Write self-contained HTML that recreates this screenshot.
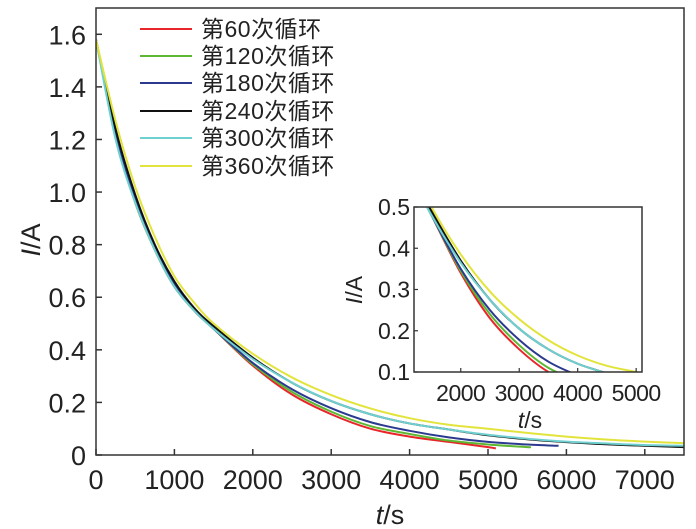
<!DOCTYPE html>
<html><head><meta charset="utf-8"><style>
body{margin:0;background:#fff}
svg{display:block;font-family:"Liberation Sans","Noto Sans CJK SC",sans-serif}
</style></head><body>
<svg id="chart" width="696" height="529" viewBox="0 0 696 529"></svg>
<script>
const times=[0,250,500,750,1000,1250,1500,2000,2500,3000,3500,4000,4500,5000,5500,6000,6500,7000,7500];
const seriesNames=["第60次循环","第120次循环","第180次循环","第240次循环","第300次循环","第360次循环"];
const seriesColors=["#e8262a","#5cb833","#2b3a8f","#111111","#6fd0d0","#e2e43c"];
const redVals=[1.58,1.22,0.96,0.78,0.64,0.55,0.48,0.34,0.23,0.155,0.10,0.07,0.05,0.03];
const redEnd=[5100,0.025];
const greenVals=[1.58,1.22,0.96,0.78,0.64,0.55,0.48,0.345,0.24,0.165,0.11,0.08,0.055,0.04,0.03];
const greenEnd=[5500,0.03];
const blueVals=[1.58,1.23,0.97,0.79,0.65,0.55,0.48,0.35,0.25,0.178,0.125,0.092,0.067,0.05,0.04];
const blueEnd=[5900,0.035];
const blackVals=[1.58,1.24,0.99,0.80,0.66,0.56,0.49,0.37,0.275,0.205,0.155,0.12,0.097,0.075,0.06,0.049,0.041,0.035,0.03];
const cyanVals=[1.58,1.20,0.96,0.78,0.64,0.55,0.48,0.365,0.275,0.205,0.155,0.12,0.097,0.077,0.062,0.051,0.044,0.038,0.035];
const yellowVals=[1.58,1.27,1.02,0.83,0.68,0.58,0.50,0.385,0.295,0.228,0.177,0.14,0.115,0.1,0.084,0.07,0.059,0.051,0.045];
const xTicks=[0,1000,2000,3000,4000,5000,6000,7000];
const yTicks=[0,0.2,0.4,0.6,0.8,1.0,1.2,1.4,1.6];
const yTickLabels=["0","0.2","0.4","0.6","0.8","1.0","1.2","1.4","1.6"];
const insetXTicks=[2000,3000,4000,5000];
const insetYTicks=[0.1,0.2,0.3,0.4,0.5];

const NS="http://www.w3.org/2000/svg";
const svg=document.getElementById('chart');
function mk(tag,attrs,parent){const e=document.createElementNS(NS,tag);for(const k in attrs)e.setAttribute(k,attrs[k]);(parent||svg).appendChild(e);return e;}
function pts(vals,end){const p=vals.map((v,i)=>[times[i],v]);if(end)p.push(end);return p;}
const allSeries=[pts(redVals,redEnd),pts(greenVals,greenEnd),pts(blueVals,blueEnd),pts(blackVals),pts(cyanVals),pts(yellowVals)];

const M={l:96,r:684,t:8,b:455,x0:0,x1:7500,y0:0,y1:1.7};
const mx=v=>M.l+(v-M.x0)/(M.x1-M.x0)*(M.r-M.l);
const my=v=>M.b-(v-M.y0)/(M.y1-M.y0)*(M.b-M.t);
const I={l:414,r:642,t:207,b:372,x0:1200,x1:5100,y0:0.1,y1:0.5};
const ix=v=>I.l+(v-I.x0)/(I.x1-I.x0)*(I.r-I.l);
const iy=v=>I.b-(v-I.y0)/(I.y1-I.y0)*(I.b-I.t);

function spline(p,fx,fy){
  const q=p.map(a=>[fx(a[0]),fy(a[1])]);
  let d="M"+q[0][0].toFixed(2)+","+q[0][1].toFixed(2);
  for(let i=0;i<q.length-1;i++){
    const p0=q[Math.max(0,i-1)],p1=q[i],p2=q[i+1],p3=q[Math.min(q.length-1,i+2)];
    const c1=[p1[0]+(p2[0]-p0[0])/6,p1[1]+(p2[1]-p0[1])/6];
    const c2=[p2[0]-(p3[0]-p1[0])/6,p2[1]-(p3[1]-p1[1])/6];
    d+=`C${c1[0].toFixed(2)},${c1[1].toFixed(2)} ${c2[0].toFixed(2)},${c2[1].toFixed(2)} ${p2[0].toFixed(2)},${p2[1].toFixed(2)}`;
  }
  return d;
}
const defs=mk('defs',{});
const cm=mk('clipPath',{id:'cm'},defs);mk('rect',{x:M.l,y:M.t,width:M.r-M.l,height:M.b-M.t},cm);
const ci=mk('clipPath',{id:'ci'},defs);mk('rect',{x:I.l,y:I.t,width:I.r-I.l,height:I.b-I.t},ci);

const gm=mk('g',{'clip-path':'url(#cm)'});
allSeries.forEach((s,k)=>{
  const p=mk('path',{d:spline(s,mx,my),fill:'none',stroke:seriesColors[k],'stroke-width':2},gm);
  
  
});
const fr=mk('rect',{x:M.l,y:M.t,width:M.r-M.l,height:M.b-M.t,fill:'none',stroke:'#333','stroke-width':1.5});

xTicks.forEach(v=>{
  mk('line',{x1:mx(v),x2:mx(v),y1:M.b,y2:M.b-6,stroke:'#333','stroke-width':1.5});
  const t=mk('text',{x:mx(v),y:M.b+34,'text-anchor':'middle','font-size':27,fill:'#222'});t.textContent=v;
  
});
yTicks.forEach((v,i)=>{
  mk('line',{x1:M.l,x2:M.l+6,y1:my(v),y2:my(v),stroke:'#333','stroke-width':1.5});
  const t=mk('text',{x:86,y:my(v)+10,'text-anchor':'end','font-size':27,fill:'#222'});t.textContent=yTickLabels[i];
  
});
let xt=mk('text',{x:390,y:524,'text-anchor':'middle','font-size':27,fill:'#222'});
xt.innerHTML='<tspan font-style="italic">t</tspan>/s';

let yt=mk('text',{transform:'translate(40,240) rotate(-90)','text-anchor':'middle','font-size':27,fill:'#222'});
yt.innerHTML='<tspan font-style="italic">I</tspan>/A';


const legY=[29,56,83,111,138,166];
seriesNames.forEach((n,k)=>{
  const g=mk('g',{});
  
  mk('line',{x1:140,x2:192,y1:legY[k],y2:legY[k],stroke:seriesColors[k],'stroke-width':2},g);
  const t=mk('text',{x:201,y:legY[k]+8,'font-size':23,fill:'#222','letter-spacing':'0.5'},g);t.textContent=n;
});

const ibg=mk('rect',{x:I.l,y:I.t,width:I.r-I.l,height:I.b-I.t,fill:'#fff'});

const gi=mk('g',{'clip-path':'url(#ci)'});
allSeries.forEach((s,k)=>{
  const p=mk('path',{d:spline(s,ix,iy),fill:'none',stroke:seriesColors[k],'stroke-width':2},gi);
  
  
});
const ifr=mk('rect',{x:I.l,y:I.t,width:I.r-I.l,height:I.b-I.t,fill:'none',stroke:'#333','stroke-width':1.5});

insetXTicks.forEach(v=>{
  mk('line',{x1:ix(v),x2:ix(v),y1:I.b,y2:I.b-4,stroke:'#333','stroke-width':1.2});
  const t=mk('text',{x:ix(v),y:I.b+29,'text-anchor':'middle','font-size':23,fill:'#222','letter-spacing':'-0.5'});t.textContent=v;
  
});
insetYTicks.forEach(v=>{
  mk('line',{x1:I.l,x2:I.l+4,y1:iy(v),y2:iy(v),stroke:'#333','stroke-width':1.2});
  const t=mk('text',{x:I.l-4,y:iy(v)+8,'text-anchor':'end','font-size':23,fill:'#222'});t.textContent=v.toFixed(1);
  
});
let ixt=mk('text',{x:530,y:428,'text-anchor':'middle','font-size':23,fill:'#222'});
ixt.innerHTML='<tspan font-style="italic">t</tspan>/s';

let iyt=mk('text',{transform:'translate(362,290) rotate(-90)','text-anchor':'middle','font-size':23,fill:'#222'});
iyt.innerHTML='<tspan font-style="italic">I</tspan>/A';

</script>
</body></html>
